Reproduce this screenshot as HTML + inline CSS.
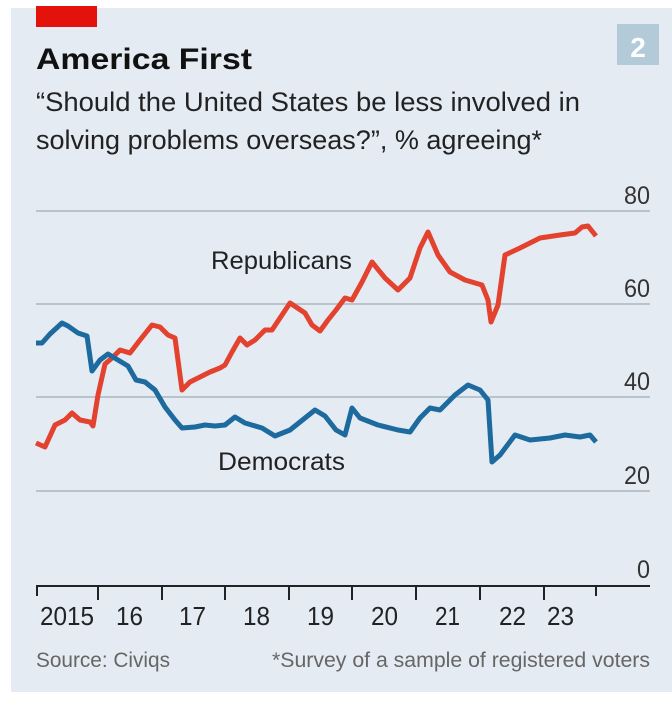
<!DOCTYPE html>
<html><head><meta charset="utf-8"><style>
body{margin:0;background:#fff;width:672px;height:700px;overflow:hidden;font-family:"Liberation Sans",sans-serif;}
</style></head><body>
<svg width="672" height="700" viewBox="0 0 672 700" xmlns="http://www.w3.org/2000/svg" font-family="Liberation Sans, sans-serif">
<rect x="11" y="8" width="661" height="684" fill="#e4ebf3"/>
<rect x="36" y="6" width="61" height="21" fill="#e3120b"/>
<rect x="617" y="24" width="42" height="41" fill="#b3cad9"/>
<text x="638" y="57" font-size="28" font-weight="bold" fill="#fff" text-anchor="middle">2</text>
<text x="36" y="69" font-size="30" font-weight="bold" fill="#111" textLength="216" lengthAdjust="spacingAndGlyphs">America First</text>
<text x="36" y="111" font-size="27" fill="#222" textLength="544" lengthAdjust="spacingAndGlyphs">“Should the United States be less involved in</text>
<text x="36" y="149" font-size="27" fill="#222" textLength="506" lengthAdjust="spacingAndGlyphs">solving problems overseas?”, % agreeing*</text>
<g stroke="#b9c3cc" stroke-width="2">
<line x1="36" y1="211" x2="650" y2="211"/><line x1="36" y1="304" x2="650" y2="304"/>
<line x1="36" y1="397" x2="650" y2="397"/><line x1="36" y1="491" x2="650" y2="491"/>
</g>
<g font-size="25" fill="#333" text-anchor="end" lengthAdjust="spacingAndGlyphs">
<text x="650" y="204" textLength="26" lengthAdjust="spacingAndGlyphs">80</text><text x="650" y="297" textLength="26" lengthAdjust="spacingAndGlyphs">60</text><text x="650" y="390" textLength="26" lengthAdjust="spacingAndGlyphs">40</text><text x="650" y="484" textLength="26" lengthAdjust="spacingAndGlyphs">20</text><text x="650" y="578" textLength="13" lengthAdjust="spacingAndGlyphs">0</text>
</g>
<line x1="36" y1="586" x2="650" y2="586" stroke="#222" stroke-width="2"/>
<g stroke="#222" stroke-width="2">
<line x1="37" y1="586" x2="37" y2="596"/><line x1="98" y1="586" x2="98" y2="600"/><line x1="162" y1="586" x2="162" y2="600"/>
<line x1="225" y1="586" x2="225" y2="600"/><line x1="289" y1="586" x2="289" y2="600"/><line x1="352" y1="586" x2="352" y2="600"/>
<line x1="416" y1="586" x2="416" y2="600"/><line x1="480" y1="586" x2="480" y2="600"/><line x1="544" y1="586" x2="544" y2="600"/>
<line x1="596" y1="586" x2="596" y2="596"/>
</g>
<g font-size="26" fill="#222">
<text x="40" y="625" textLength="54" lengthAdjust="spacingAndGlyphs">2015</text>
<text x="116" y="625" textLength="27" lengthAdjust="spacingAndGlyphs">16</text>
<text x="179" y="625" textLength="27" lengthAdjust="spacingAndGlyphs">17</text>
<text x="243" y="625" textLength="27" lengthAdjust="spacingAndGlyphs">18</text>
<text x="307" y="625" textLength="27" lengthAdjust="spacingAndGlyphs">19</text>
<text x="371" y="625" textLength="27" lengthAdjust="spacingAndGlyphs">20</text>
<text x="435" y="625" textLength="25" lengthAdjust="spacingAndGlyphs">21</text>
<text x="499" y="625" textLength="27" lengthAdjust="spacingAndGlyphs">22</text>
<text x="547" y="625" textLength="27" lengthAdjust="spacingAndGlyphs">23</text>
</g>
<text x="36" y="667" font-size="21" fill="#666" textLength="134" lengthAdjust="spacingAndGlyphs">Source: Civiqs</text>
<text x="650" y="667" font-size="21" fill="#666" text-anchor="end" textLength="378" lengthAdjust="spacingAndGlyphs">*Survey of a sample of registered voters</text>
<text x="211" y="269" font-size="25" fill="#222" textLength="141" lengthAdjust="spacingAndGlyphs">Republicans</text>
<text x="218" y="470" font-size="25" fill="#222" textLength="127" lengthAdjust="spacingAndGlyphs">Democrats</text>
<polyline fill="none" stroke="#e3422f" stroke-width="5" stroke-linejoin="round" points="36,443 45,447 50,436 55,425 65,420 72,413 80,420 90,422 93,426 98,395 105,364 112,358 120,350 130,353 140,340 152,325 160,327 168,335 175,338 182,390 190,382 200,377 210,372 220,368 225,365 232,352 240,338 247,345 255,340 265,330 272,330 280,318 290,303 305,313 312,325 320,331 328,320 336,310 345,298 352,300 362,282 372,262 385,278 398,290 410,278 420,248 428,232 438,255 450,272 465,280 482,285 488,300 491,322 498,305 505,255 520,248 540,238 560,235 575,233 582,227 588,226 596,236"/>
<polyline fill="none" stroke="#1d6a9e" stroke-width="5" stroke-linejoin="round" points="36,343 42,343 50,334 62,323 68,326 78,333 87,336 92,371 100,360 108,354 118,360 128,366 136,380 145,382 155,390 165,407 175,420 182,428 195,427 205,425 215,426 225,425 235,417 245,423 262,428 275,436 290,430 305,418 315,410 325,416 336,430 345,435 352,408 360,418 378,425 398,430 410,432 420,418 430,408 440,410 455,395 468,385 480,390 488,400 492,462 500,455 515,435 530,440 550,438 565,435 580,437 590,435 596,442"/>
</svg>
</body></html>
